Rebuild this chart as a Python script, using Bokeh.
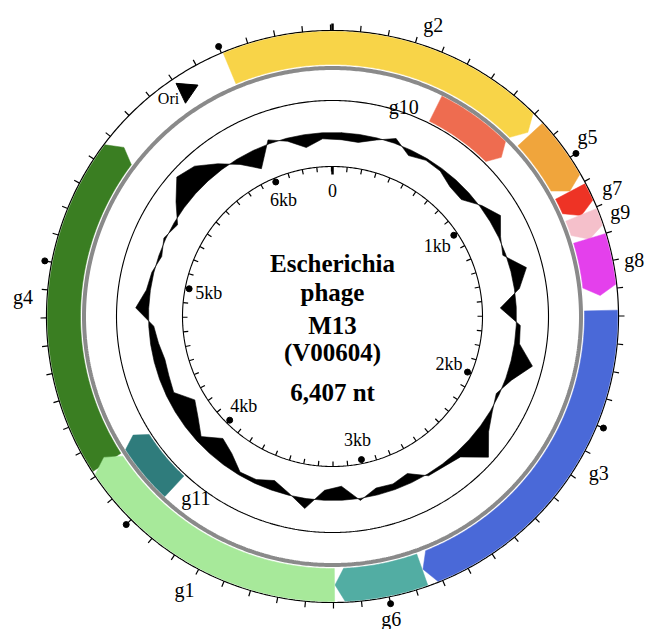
import numpy as np
from bokeh.plotting import figure
from bokeh.core.properties import value
from bokeh.embed import file_html
from bokeh.resources import INLINE

GENOME = 6407

gene_names = ["g4", "g2", "g5", "g7", "g9", "g8", "g3", "g6", "g1", "g10", "g11"]
gene_starts = [4220, 6006, 843, 1108, 1206, 1301, 1579, 2856, 3196, 470, 3968]
gene_ends = [5500, 831, 1106, 1209, 1304, 1522, 2853, 3194, 4242, 831, 4258]
gene_track = ["outer", "outer", "outer", "outer", "outer", "outer", "outer", "outer", "outer", "inner", "inner"]
gene_colors = ["#3A7E22", "#F8D448", "#F0A53C", "#EE3325", "#F5C0CB", "#E440EC",
               "#4A69D8", "#52ADA3", "#A7E99A", "#EE6C50", "#2F7C7C"]
label_nt = [4870, 340, 976, 1162, 1248, 1413, 2145, 3008, 3709, 335, 3862]
label_r = [310, 308, 312, 308, 306, 307, 309, 308, 311, 221, 227]

# GC skew, one value per 100 nt window (pixels of deflection from baseline)
skew_vals = [-7, -8, -2, 5, -6, -2, -3, -9, -10, 2,
             12, 2, -3, 16, 5, -16, 4, 5, 22, 6,
             -3, 2, 10, 26, 6, 3, 2, -10, -6, -7,
             2, -14, -10, 10, -2, -10, -4, -3, -14, -20,
             -6, -16, -23, -8, -10, -11, -8, -5, 13, 4,
             2, -3, 2, -4, 10, 25, 20, 7, -6, -20,
             4, -3, -13, -6]
skew_window = 100

kb_pos = [1000, 2000, 3000, 4000, 5000, 6000]
kb_labels = ["1kb", "2kb", "3kb", "4kb", "5kb", "6kb"]
tick_step = 100

ori_nt = 5822
title_lines = ["Escherichia", "phage", "M13", "(V00604)", "6,407 nt"]

SERIF = value("Liberation Serif")


def pol(nt, r):
    t = np.asarray(nt, dtype=float) / GENOME * 2 * np.pi
    return r * np.sin(t), r * np.cos(t)


def arrow(s, e, r0, r1, head_deg=2.0):
    if e < s:
        e += GENOME
    head = head_deg / 360 * GENOME
    head = min(head, 0.6 * (e - s))
    b = e - head
    n = max(int((b - s) / 8) + 2, 2)
    arc = np.linspace(s, b, n)
    xo, yo = pol(arc, r1)
    xi, yi = pol(arc[::-1], r0)
    xt, yt = pol([e], (r0 + r1) / 2)
    return list(xo) + list(xt) + list(xi), list(yo) + list(yt) + list(yi)


p = figure(width=647, height=629, x_range=(-332, 315), y_range=(-313, 316),
           output_backend="svg", toolbar_location=None, min_border=0,
           outline_line_color=None, background_fill_color="white")
p.axis.visible = False
p.grid.visible = False

full = np.linspace(0, GENOME, 721)

# circles
for r, w, c in [(286, 1.2, "black"), (248.5, 4, "#8A8A8A"), (216, 1.1, "black"), (150, 1.1, "black")]:
    x, y = pol(full, r)
    p.line(x, y, line_color=c, line_width=w)

# genes
gx, gy, gc = [], [], []
for s, e, t, c in zip(gene_starts, gene_ends, gene_track, gene_colors):
    r0, r1 = (252, 285) if t == "outer" else (218, 246)
    xs, ys = arrow(s, e, r0, r1)
    gx.append(xs); gy.append(ys); gc.append(c)
p.patches(gx, gy, fill_color=gc, line_color=gc, line_width=0.5)

# gene labels
lx, ly = [], []
for n_, r_ in zip(label_nt, label_r):
    a, b = pol([n_], r_)
    lx.append(a[0]); ly.append(b[0])
p.text(lx, ly, text=gene_names, text_font=SERIF, text_font_size="20px",
       text_align="center", text_baseline="middle", text_color="black")

# outer ticks
tk = np.arange(0, GENOME, tick_step)
x0, y0 = pol(tk, 286)
x1, y1 = pol(tk, 292)
p.segment(x0, y0, x1, y1, line_color="black", line_width=1.2)
x0, y0 = pol([0], 286)
x1, y1 = pol([0], 293)
p.segment(x0, y0, x1, y1, line_color="black", line_width=2.5)
dx, dy = pol(kb_pos, 293)
p.scatter(dx, dy, size=6, color="black")

# inner scale
x0, y0 = pol(tk, 150)
x1, y1 = pol(tk, 145)
p.segment(x0, y0, x1, y1, line_color="black", line_width=1.2)
x0, y0 = pol([0], 150)
x1, y1 = pol([0], 142)
p.segment(x0, y0, x1, y1, line_color="black", line_width=2.5)
dx, dy = pol(kb_pos, 146)
p.scatter(dx, dy, size=6, color="black")
kx, ky = pol([0] + kb_pos, 126)
p.text(kx, ky, text=["0"] + kb_labels, text_font=SERIF, text_font_size="18px",
       text_align="center", text_baseline="middle", text_color="black")

# GC skew
base = 184
centers = np.arange(len(skew_vals)) * skew_window + skew_window / 2
radii = base + np.array(skew_vals, dtype=float)
cx, cy = pol(np.append(centers, centers[0] + GENOME), np.append(radii, radii[0]))
bx, by = pol(np.append(centers, centers[0] + GENOME)[::-1], base)
p.patch(list(cx) + list(bx), list(cy) + list(by), fill_color="black",
        line_color="black", line_width=0.6)

# Ori
ox, oy = pol([ori_nt], 269)
p.scatter(ox, oy, marker="inverted_triangle", size=22, color="black", angle=-0.08)
olx, oly = pol([ori_nt - 72], 273)
p.text(olx, oly, text=["Ori"], text_font=SERIF, text_font_size="16px",
       text_align="center", text_baseline="middle", text_color="black")

# centre title
ty = [52.7, 24.3, -9, -35.7, -75.7]
p.text([0] * len(title_lines), ty, text=title_lines, text_font=SERIF,
       text_font_size="25px", text_font_style="bold", text_align="center",
       text_baseline="alphabetic", text_color="black")

open("out.html", "w").write(file_html(p, INLINE))
